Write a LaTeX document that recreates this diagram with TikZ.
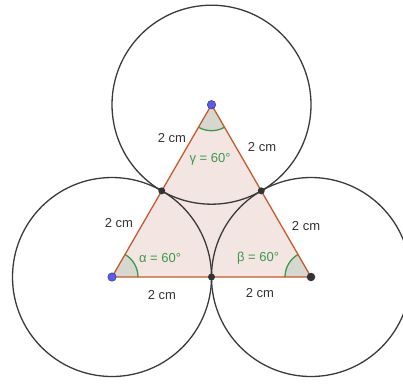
\documentclass[tikz,border=0pt]{standalone}
\usepackage{fontspec}
\setmainfont{Liberation Sans}
\usetikzlibrary{calc}

\definecolor{edgeorange}{HTML}{C65A2E}
\definecolor{trifill}{HTML}{F3E5E1}
\definecolor{circgrey}{HTML}{3A3A3A}
\definecolor{anggreen}{HTML}{3C9A4C}
\definecolor{angfill}{HTML}{D6D7CE}
\definecolor{ptblue}{HTML}{5A5AF0}
\definecolor{ptgrey}{HTML}{333333}

\begin{document}
\begin{tikzpicture}[x=1pt, y=-1pt, line cap=round, line join=round,
  circ/.style={draw=circgrey, line width=1.3pt},
  side/.style={draw=edgeorange, line width=1.3pt},
  lenlbl/.style={text=ptgrey, font=\fontsize{13}{13}\selectfont, inner sep=1pt},
  anglbl/.style={text=anggreen, font=\fontsize{13}{13}\selectfont, inner sep=1pt},
  angarc/.style={draw=anggreen, line width=1.3pt},
  bluedot/.style={circle, fill=ptblue, draw=ptblue!60!black, line width=0.5pt, inner sep=0pt, minimum size=8.5pt},
  greydot/.style={circle, fill=ptgrey, inner sep=0pt, minimum size=7pt}]

  %% ════ canvas ════
  \useasboundingbox (0,0) rectangle (403,383);
  \clip (0,0) rectangle (403,383);

  %% ════ vertices and midpoints ════
  \coordinate (A) at (112,277);
  \coordinate (B) at (311,277);
  \coordinate (C) at (211.5,104.7);
  \coordinate (MAB) at ($(A)!0.5!(B)$);
  \coordinate (MAC) at ($(A)!0.5!(C)$);
  \coordinate (MBC) at ($(B)!0.5!(C)$);

  %% ════ triangle fill ════
  \fill[trifill] (A) -- (B) -- (C) -- cycle;

  %% ════ circles (r = 2 cm) ════
  \draw[circ] (A) circle[radius=99.5pt];
  \draw[circ] (B) circle[radius=99.5pt];
  \draw[circ] (C) circle[radius=99.5pt];

  %% ════ angle marks ════
  \fill[angfill] (A) -- ++(26pt,0pt) arc[start angle=0, end angle=60, radius=26pt] -- cycle;
  \draw[angarc] ($(A)+(26pt,0pt)$) arc[start angle=0, end angle=60, radius=26pt];
  \fill[angfill] (B) -- ++(-26pt,0pt) arc[start angle=180, end angle=120, radius=26pt] -- cycle;
  \draw[angarc] ($(B)+(-26pt,0pt)$) arc[start angle=180, end angle=120, radius=26pt];
  \fill[angfill] (C) -- ++(-120:26pt) arc[start angle=-120, end angle=-60, radius=26pt] -- cycle;
  \draw[angarc] ($(C)+(-120:26pt)$) arc[start angle=-120, end angle=-60, radius=26pt];

  %% ════ sides ════
  \draw[side] (A) -- (B) -- (C) -- cycle;

  %% ════ points ════
  \node[bluedot] (Adot) at (A) {};
  \node[greydot, minimum size=8.5pt] (Bdot) at (B) {};
  \node[bluedot] (Cdot) at (C) {};
  \node[greydot] (MABdot) at (MAB) {};
  \node[greydot] (MACdot) at (MAC) {};
  \node[greydot] (MBCdot) at (MBC) {};

  %% ════ labels ════
  \node[lenlbl] (lenCa) at (172,138) {2 cm};
  \node[lenlbl] (lenCb) at (262,147) {2 cm};
  \node[lenlbl] (lenAc) at (119,223) {2 cm};
  \node[lenlbl] (lenBc) at (306,226) {2 cm};
  \node[lenlbl] (lenAb) at (162,295) {2 cm};
  \node[lenlbl] (lenBa) at (260,293) {2 cm};
  \node[anglbl] (gamma) at (210,159) {γ = 60°};
  \node[anglbl] (alpha) at (160,258) {α = 60°};
  \node[anglbl] (beta)  at (258,258) {β = 60°};
\end{tikzpicture}
\end{document}
